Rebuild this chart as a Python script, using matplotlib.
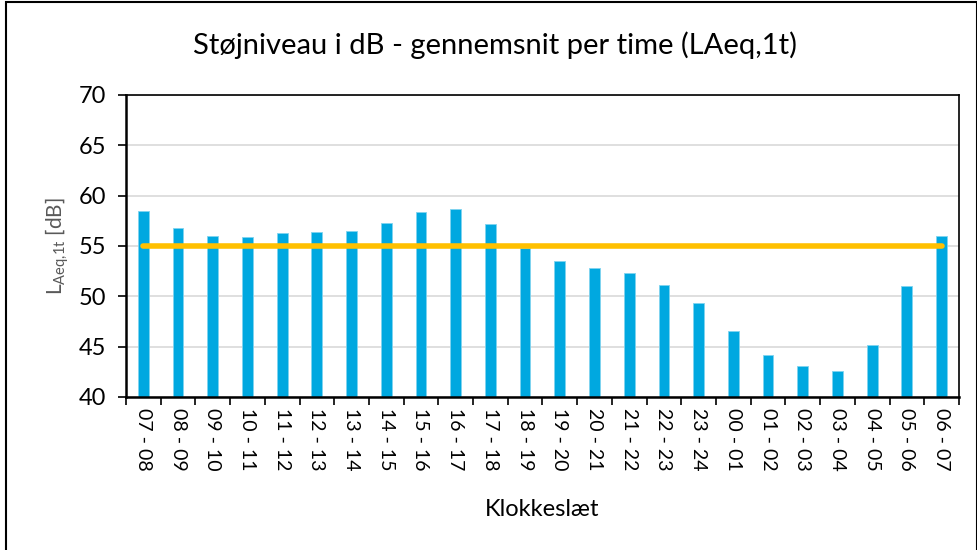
import matplotlib

matplotlib.use("Agg")
import matplotlib.pyplot as plt
import numpy as np
from matplotlib.patches import Rectangle

plt.rcParams["font.family"] = ["Lato", "DejaVu Sans"]

hours = [
    "07 - 08", "08 - 09", "09 - 10", "10 - 11", "11 - 12", "12 - 13",
    "13 - 14", "14 - 15", "15 - 16", "16 - 17", "17 - 18", "18 - 19",
    "19 - 20", "20 - 21", "21 - 22", "22 - 23", "23 - 24", "00 - 01",
    "01 - 02", "02 - 03", "03 - 04", "04 - 05", "05 - 06", "06 - 07",
]
laeq = [
    58.5, 56.8, 56.0, 55.9, 56.3, 56.4, 56.5, 57.3, 58.4, 58.7, 57.2, 54.8,
    53.5, 52.8, 52.3, 51.1, 49.3, 46.6, 44.2, 43.1, 42.6, 45.2, 51.0, 56.0,
]
limit = 55

x = np.arange(len(hours))

fig = plt.figure(figsize=(9.78, 5.5), dpi=100)
ax = fig.add_axes([0.1288, 0.2782, 0.8517, 0.5491])

# chart frame like the spreadsheet export
fig.patches.append(Rectangle((0.006, -0.05), 0.993, 1.046, transform=fig.transFigure,
                             fill=False, edgecolor="black", linewidth=1.5))

ax.bar(x, laeq, width=0.31, color="#00A8E0", edgecolor="#7fd3ef", linewidth=0.6, zorder=2)
ax.plot([x[0], x[-1]], [limit, limit], color="#FFC000", linewidth=4, solid_capstyle="round", zorder=3)

ax.set_ylim(40, 70)
ax.set_xlim(-0.5, len(hours) - 0.5)
ax.set_yticks(np.arange(40, 71, 5))
ax.yaxis.grid(True, color="#d9d9d9", linewidth=1.2, zorder=0)
ax.set_axisbelow(True)

ax.set_xticks(x)
ax.set_xticklabels(hours, rotation=270, fontsize=14)
ax.set_xticks(np.arange(-0.5, len(hours), 1), minor=True)
ax.tick_params(axis="x", which="major", length=0, pad=8)
ax.tick_params(axis="x", which="minor", length=6, width=1.2, direction="out")
ax.tick_params(axis="y", length=6, width=1.2, direction="out", labelsize=17, pad=8)

for side in ["left", "bottom"]:
    ax.spines[side].set_linewidth(1.8)
for side in ["top", "right"]:
    ax.spines[side].set_linewidth(1.2)

ax.set_ylabel(r"L$_\mathregular{Aeq{,}1t}$ [dB]", fontsize=15, color="#595959", labelpad=6)
ax.set_xlabel("Klokkeslæt", fontsize=17, labelpad=20)
fig.text(0.506, 0.918, "Støjniveau i dB - gennemsnit per time (LAeq,1t)",
         ha="center", va="center", fontsize=21)

fig.savefig("out.png", dpi=100, facecolor="white")
